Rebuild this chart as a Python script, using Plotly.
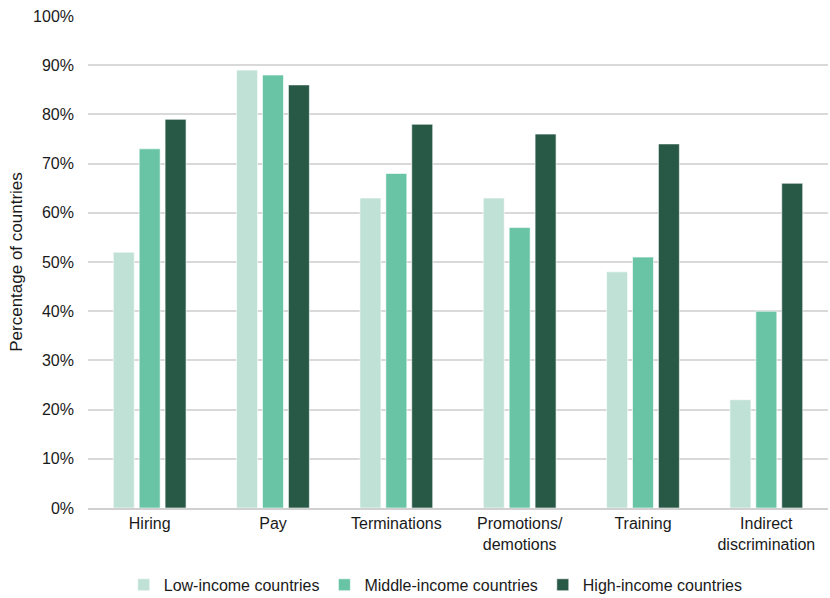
import plotly.graph_objects as go

categories = ["Hiring", "Pay", "Terminations", "Promotions/<br>demotions", "Training", "Indirect<br>discrimination"]
low_income = [52, 89, 63, 63, 48, 22]
middle_income = [73, 88, 68, 57, 51, 40]
high_income = [79, 86, 78, 76, 74, 66]
y_ticks = [0, 10, 20, 30, 40, 50, 60, 70, 80, 90, 100]
y_tick_labels = [f"{v}%" for v in y_ticks]

series = [
    ("Low-income countries", low_income, "#C0E1D5"),
    ("Middle-income countries", middle_income, "#69C4A6"),
    ("High-income countries", high_income, "#285946"),
]

fig = go.Figure()
for name, vals, color in series:
    fig.add_trace(go.Bar(
        x=categories, y=vals, name=name,
        marker=dict(color=color, line=dict(color="rgba(255,255,255,0.6)", width=1)),
    ))

fig.update_layout(
    width=830, height=598,
    margin=dict(l=88, r=2, t=16, b=90),
    paper_bgcolor="white", plot_bgcolor="white",
    font=dict(family="Liberation Sans, Arial, sans-serif", size=16, color="#1a1a1a"),
    barmode="group", bargap=0.37, bargroupgap=0.19,
    legend=dict(orientation="h", x=0.525, xanchor="center", xref="container",
                y=0.022, yanchor="middle", yref="container",
                font=dict(size=16), itemwidth=30, traceorder="normal"),
    xaxis=dict(showgrid=False, showline=True, linecolor="#d0d0d0", linewidth=2,
               ticks="", tickfont=dict(size=16), automargin=False),
    yaxis=dict(range=[0, 100], tickvals=y_ticks, ticktext=y_tick_labels,
               showgrid=True, gridcolor="#d9d9d9", gridwidth=2, zeroline=False,
               ticks="", ticklabelstandoff=13, tickfont=dict(size=16), automargin=False,
               title=dict(text="Percentage of countries", font=dict(size=17), standoff=6)),
)

fig.write_html("out.html", config={"displayModeBar": False},
               post_script="document.body.style.margin='0';document.body.style.overflow='hidden';")
